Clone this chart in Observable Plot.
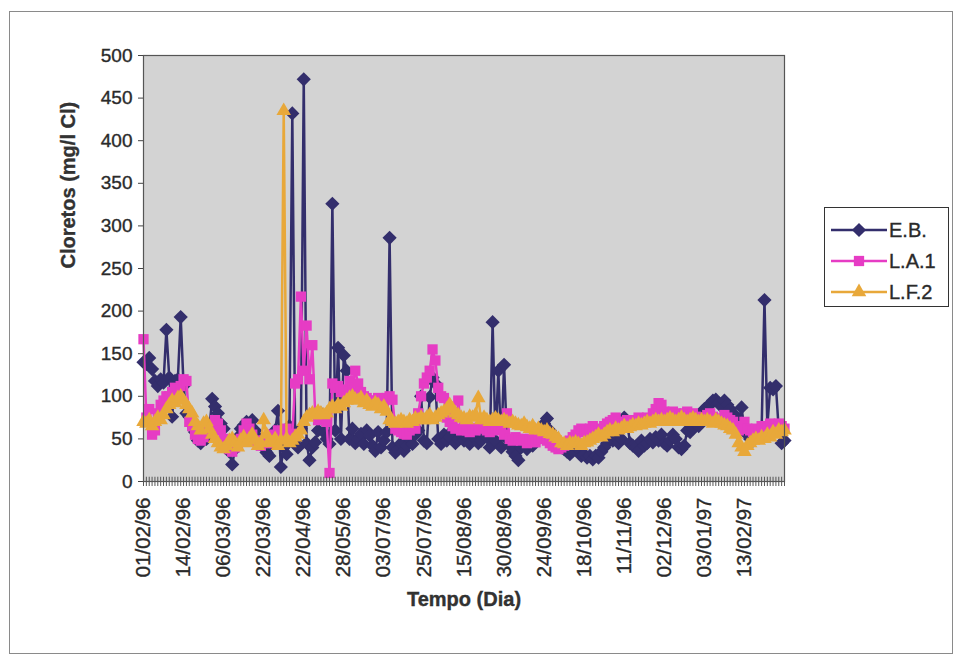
<!DOCTYPE html>
<html>
<head>
<meta charset="utf-8">
<script src="https://cdn.jsdelivr.net/npm/d3@7"></script>
<script src="https://cdn.jsdelivr.net/npm/@observablehq/plot@0.6"></script>
<style>
  body { margin: 0; background: #fff; font-family: "Liberation Sans", Arial, sans-serif; }
  #wrap { position: relative; width: 961px; height: 661px; overflow: hidden; }
  #border { position: absolute; left: 9px; top: 11px; width: 944px; height: 643px; border: 1px solid #8a8a8a; box-sizing: border-box; }
  #legend { position: absolute; left: 824px; top: 207px; width: 125px; height: 100px; border: 1px solid #333; box-sizing: border-box; background: #fff; }
  #chart { position: absolute; left: 0; top: 0; }
  #chart svg text { stroke: currentColor; stroke-width: 0.35px; }
</style>
</head>
<body>
<div id="wrap">
  <div id="border"></div>
  <div id="chart"></div>
  <div id="legend"></div>
</div>
<script>
// ---- data ----
const tickLabels = ["01/02/96","14/02/96","06/03/96","22/03/96","22/04/96","28/05/96","03/07/96","25/07/96",
  "15/08/96","30/08/96","24/09/96","18/10/96","11/11/96","02/12/96","03/01/97","13/02/97"];
const labelStep = 14;
const seriesNames = ["E.B.", "L.A.1", "L.F.2"];
const yTicks = [0, 50, 100, 150, 200, 250, 300, 350, 400, 450, 500];

const ebValues = [
  140,138,145,132,118,112,120,116,178,122,76,118,120,193,
  112,80,76,70,58,48,45,52,50,62,97,88,80,68,
  62,46,35,20,38,52,62,66,70,64,72,60,52,44,
  40,34,30,45,60,83,17,40,32,65,432,48,40,62,
  472,45,25,40,46,60,80,58,50,44,326,60,157,50,
  148,130,50,62,45,50,56,44,60,54,42,36,58,40,
  48,58,286,40,34,38,45,36,42,50,44,55,60,100,
  48,45,99,122,115,50,44,55,48,52,60,45,50,55,
  48,52,44,56,50,45,48,60,52,40,187,48,130,40,
  137,50,42,35,30,25,40,45,38,45,42,48,50,55,
  68,74,60,55,50,45,40,38,35,32,36,42,38,30,
  32,28,30,26,30,28,35,40,45,50,48,52,45,50,
  75,70,45,42,40,36,48,42,45,50,46,52,48,55,
  45,42,48,55,50,40,38,42,60,58,62,70,65,80,
  85,88,90,95,96,92,88,95,90,85,80,75,70,87,
  60,55,50,48,52,55,60,213,65,110,108,112,60,45,
  48];
const la1Values = [
  167,75,85,55,60,80,90,95,100,100,105,110,108,112,
  120,118,70,65,55,50,48,52,60,58,65,72,68,60,
  50,42,38,35,40,45,50,60,68,62,55,48,45,42,
  48,50,45,55,52,60,58,56,62,55,56,115,120,217,
  130,183,120,160,80,72,78,75,70,10,115,110,112,105,
  108,100,118,110,130,115,105,100,98,95,92,95,98,96,
  90,98,100,96,62,60,58,56,55,60,65,62,80,100,
  115,122,130,155,142,110,100,98,75,70,65,62,95,60,
  62,60,58,62,60,63,62,65,60,58,62,62,60,62,
  55,80,50,48,52,50,48,50,45,50,48,46,50,52,
  50,48,45,42,40,38,40,42,45,48,52,55,60,62,
  58,60,62,65,60,58,62,65,68,70,72,75,70,68,
  70,72,68,70,72,75,70,72,75,72,80,85,92,90,
  82,78,80,82,80,78,76,80,82,78,80,76,74,72,
  75,78,80,76,72,70,74,78,75,72,70,65,60,62,
  70,62,60,58,62,60,65,60,62,68,65,62,68,65,
  62];
const lf2Values = [
  70,68,72,65,70,75,72,78,85,90,95,92,98,100,
  95,90,85,80,70,65,60,68,70,62,55,50,45,40,
  38,42,48,50,45,40,48,52,45,50,55,48,42,45,
  72,55,48,45,50,42,48,435,50,45,48,52,55,60,
  70,75,78,80,78,82,80,78,80,85,88,85,90,88,
  92,95,98,100,96,95,98,92,95,90,88,92,90,85,
  88,82,72,70,68,70,72,70,68,72,70,74,72,75,
  72,75,78,72,75,78,80,82,85,90,85,80,78,75,
  74,72,76,75,78,98,72,75,72,70,72,74,72,70,
  72,70,68,70,68,66,65,68,64,62,65,60,62,60,
  58,60,56,55,52,50,45,44,42,45,44,46,44,42,
  45,46,48,50,52,55,52,55,58,60,58,62,60,62,
  65,62,64,66,65,68,66,68,70,68,70,72,70,72,
  70,72,74,72,70,72,75,72,70,72,74,72,70,72,
  70,72,70,68,72,70,68,66,65,62,60,55,45,40,
  35,42,45,48,50,48,52,50,55,52,58,55,60,58,
  60];

// ---- build ----
const colors = ["#332e6c", "#e63cc4", "#e8a83a"];
const symbols = ["diamond2", "square", "triangle"];
const radii = [6.4, 5.8, 5.4];
const allValues = [ebValues, la1Values, lf2Values];
const n = ebValues.length;
const idx = d3.range(n);
const labelIdx = tickLabels.map((_, k) => k * labelStep);

const seriesMarks = [];
allValues.forEach((vals, s) => {
  const rows = vals.map((v, i) => ({i, v}));
  seriesMarks.push(Plot.line(rows, {x: "i", y: "v", stroke: colors[s], strokeWidth: 2.5}));
  seriesMarks.push(Plot.dot(rows, {x: "i", y: "v", symbol: () => symbols[s], r: radii[s], fill: colors[s], stroke: "none"}));
});

const chart = Plot.plot({
  width: 961, height: 661,
  marginLeft: 143, marginRight: 177, marginTop: 55, marginBottom: 180,
  x: {domain: [0, n - 1], axis: null},
  y: {domain: [0, 500], axis: null},
  symbol: {type: "identity"},
  style: {fontFamily: "'Liberation Sans', Arial, sans-serif", background: "transparent", color: "#2a2a2a"},
  marks: [
    Plot.frame({fill: "url(#dots)", stroke: "none"}),
    ...seriesMarks,
    Plot.frame({stroke: "#555", strokeWidth: 1.2}),
    Plot.axisY({ticks: yTicks, tickSize: 5, tickPadding: 6, fontSize: 19, label: null, stroke: "#444"}),
    Plot.axisX({ticks: idx, tickSize: 5, tickFormat: () => "", label: null, stroke: "#555"}),
    Plot.ruleX(idx, {x: d => d, y1: 0, y2: 5, stroke: "#555", strokeWidth: 1}),
    Plot.axisX({ticks: labelIdx, tickSize: 0, tickPadding: 16, tickRotate: -90, fontSize: 20.5,
      tickFormat: d => tickLabels[Math.round(d / labelStep)], label: null}),
    Plot.text(["Cloretos (mg/l Cl)"], {frameAnchor: "left", dx: -75, rotate: -90, fontSize: 20, fontWeight: "bold", fill: "#333"}),
    Plot.text(["Tempo (Dia)"], {frameAnchor: "bottom", dy: 124, fontSize: 20, fontWeight: "bold", fill: "#333"})
  ]
});

// dotted plot-area pattern
const ns = "http://www.w3.org/2000/svg";
const defs = document.createElementNS(ns, "defs");
defs.innerHTML = '<pattern id="dots" width="2" height="2" patternUnits="userSpaceOnUse">' +
  '<rect width="2" height="2" fill="#fbfbfb"/>' +
  '<rect x="0" y="0" width="1" height="1" fill="#ababab"/>' +
  '<rect x="1" y="1" width="1" height="1" fill="#ababab"/></pattern>';
chart.insertBefore(defs, chart.firstChild);
document.getElementById("chart").appendChild(chart);

// legend
const lg = d3.select("#legend").append("svg").attr("width", 123).attr("height", 98);
seriesNames.forEach((name, s) => {
  const y = 22 + s * 31;
  lg.append("line").attr("x1", 6).attr("x2", 62).attr("y1", y).attr("y2", y)
    .attr("stroke", colors[s]).attr("stroke-width", 2.5);
  lg.append("path").attr("transform", `translate(34,${y})`)
    .attr("d", d3.symbol(d3["symbol" + ["Diamond2", "Square", "Triangle"][s]], radii[s] * radii[s] * Math.PI)())
    .attr("fill", colors[s]);
  lg.append("text").attr("x", 64).attr("y", y).attr("dy", "0.36em")
    .attr("font-size", 20).attr("fill", "#2a2a2a").attr("stroke", "#2a2a2a").attr("stroke-width", 0.35).text(name);
});
</script>
</body>
</html>
